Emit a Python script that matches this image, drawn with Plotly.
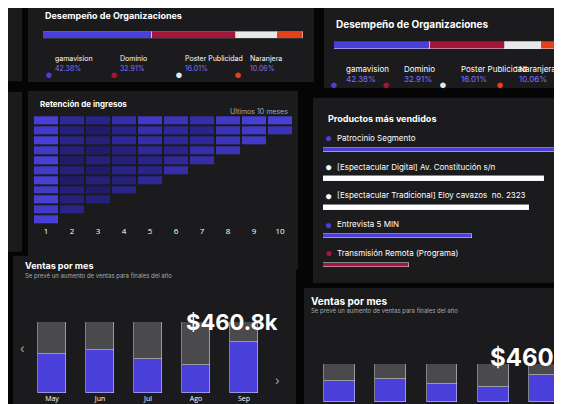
import plotly.graph_objects as go

W, H = 562, 404

# --- data ---
org_names = ["gamavision", "Dominio", "Poster Publicidad", "Naranjera"]
org_pct = [42.38, 32.91, 16.01, 10.06]
org_colors = ["#4a3fd8", "#a3163a", "#e8e8e8", "#e5401a"]

ret_rows = [
    [0.9, 0.5, 0.4, 0.6, 0.8, 0.7, 0.6, 0.8, 0.9, 0.9],
    [0.8, 0.3, 0.2, 0.4, 0.6, 0.5, 0.4, 0.7, 0.8, 0.7],
    [0.9, 0.4, 0.3, 0.5, 0.6, 0.5, 0.5, 0.7, 0.8, None],
    [0.8, 0.3, 0.2, 0.3, 0.5, 0.4, 0.6, 0.7, None, None],
    [0.9, 0.2, 0.3, 0.3, 0.4, 0.5, 0.6, None, None, None],
    [0.8, 0.3, 0.2, 0.4, 0.4, 0.6, None, None, None, None],
    [0.9, 0.2, 0.3, 0.3, 0.5, None, None, None, None, None],
    [0.8, 0.3, 0.2, 0.4, None, None, None, None, None, None],
    [0.9, 0.3, 0.3, None, None, None, None, None, None, None],
    [0.8, 0.4, None, None, None, None, None, None, None, None],
    [0.9, None, None, None, None, None, None, None, None, None],
]
ret_cols = [str(i) for i in range(1, 11)]

prod_names = ["Patrocinio Segmento", "[Espectacular Digital] Av. Constitución s/n",
              "[Espectacular Tradicional] Eloy cavazos  no. 2323", "Entrevista 5 MIN",
              "Transmisión Remota (Programa)"]
prod_vals = [0.97, 0.92, 0.86, 0.62, 0.36]
prod_colors = ["#4a3fd8", "#ffffff", "#ffffff", "#4a3fd8", "#a3163a"]

months = ["May", "Jun", "Jul", "Ago", "Sep"]
sales_blue = [0.55, 0.6, 0.48, 0.4, 0.72]
total_label = "$460.8k"


def clamp(v):
    return min(max(v, 0), 1)


def px(x0, x1):
    return [clamp(x0 / W), clamp(x1 / W)]


def py(y0, y1):
    return [clamp(1 - y1 / H), clamp(1 - y0 / H)]


fig = go.Figure()
shapes, ann = [], []

panels = [(-20, 0, 14, 75), (20, -10, 306, 76), (316, -10, 580, 82),
          (-20, 86, 14, 250), (20, 85, 290, 268), (305, 92, 580, 282),
          (5, 254, 288, 420), (296, 287, 580, 420)]
for x0, y0, x1, y1 in panels:
    shapes.append(dict(type="rect", xref="paper", yref="paper", x0=x0 / W, x1=x1 / W,
                       y0=1 - y1 / H, y1=1 - y0 / H, fillcolor="#1b1b1d",
                       line=dict(width=0), layer="below"))


def text(x, y, s, size=8, color="#ffffff", bold=False, anchor="left"):
    ann.append(dict(x=x / W, y=1 - y / H, xref="paper", yref="paper", text=f"<b>{s}</b>" if bold else s,
                    showarrow=False, xanchor=anchor, yanchor="middle",
                    font=dict(size=size, color=color, family="Inter")))


# Desempeño panels
for i, (x0, x1, yb0, yb1, ty, ly, sz) in enumerate(
        [(35, 295, 24, 31, 8, 52, 9), (326, 556, 34, 42, 17, 63, 10)]):
    ax = "" if i == 0 else "2"
    for n, v, c in zip(org_names, org_pct, org_colors):
        fig.add_trace(go.Bar(x=[v], y=[0], orientation="h", marker_color=c, width=1,
                             xaxis="x" + ax, yaxis="y" + ax, showlegend=False))
    fig.update_layout(**{f"xaxis{ax}": dict(domain=px(x0, x1), visible=False, range=[0, sum(org_pct)]),
                         f"yaxis{ax}": dict(domain=py(yb0, yb1), visible=False, anchor="x" + ax)})
    text(x0, ty, "Desempeño de Organizaciones", sz, bold=True)
    step = (x1 - x0) / 4
    for k, (n, v, c) in enumerate(zip(org_names, org_pct, org_colors)):
        lx = x0 + k * step
        ann.append(dict(x=lx / W, y=1 - (ly + 4) / H, xref="paper", yref="paper", text="●",
                        showarrow=False, font=dict(size=13, color=c)))
        text(lx + 10, ly, n, sz - 2)
        text(lx + 10, ly + 10, f"{v:.2f}%", sz - 2, color="#7b72ff")

# Retención heatmap
fig.add_trace(go.Heatmap(z=ret_rows, x=ret_cols, xaxis="x3", yaxis="y3", showscale=False, xgap=2, ygap=2,
                         colorscale=[[0, "#17134f"], [0.5, "#2e2899"], [1, "#4f45e6"]], zmin=0, zmax=1))
fig.update_layout(xaxis3=dict(domain=px(25, 285), anchor="y3", showgrid=False, zeroline=False,
                              tickfont=dict(color="#ffffff", size=8), ticks="", side="bottom"),
                  yaxis3=dict(domain=py(110, 222), anchor="x3", visible=False, autorange="reversed"))
text(30, 98, "Retención de ingresos", 8, bold=True)
text(282, 106, "Ultimos 10 meses", 7, color="#aaaaaa", anchor="right")

# Productos
ys = list(range(len(prod_names)))
fig.add_trace(go.Bar(x=prod_vals, y=ys, orientation="h", marker_color=prod_colors, width=0.16,
                     xaxis="x4", yaxis="y4", showlegend=False))
fig.update_layout(xaxis4=dict(domain=px(315, 555), range=[0, 1], visible=False, anchor="y4"),
                  yaxis4=dict(domain=py(125, 278), range=[4.5, -0.7], visible=False, anchor="x4"))
text(318, 113, "Productos más vendidos", 9, bold=True)
for y, n, c in zip(ys, prod_names, prod_colors):
    ann.append(dict(x=0.0, y=y - 0.42, xref="x4", yref="y4", text="●", showarrow=False,
                    xanchor="left", font=dict(size=12, color=c)))
    ann.append(dict(x=0.05, y=y - 0.42, xref="x4", yref="y4", text=n, showarrow=False,
                    xanchor="left", font=dict(size=8, color="#ffffff", family="Inter")))

# Ventas por mes
for ax, (x0, x1, y0, y1), ty, sz in [("5", (20, 260, 322, 395), 264, 9), ("6", (306, 562, 365, 404), 300, 10)]:
    fig.add_trace(go.Bar(x=months, y=sales_blue, marker_color="#4a3fd8", width=0.6,
                         xaxis="x" + ax, yaxis="y" + ax, showlegend=False))
    fig.add_trace(go.Bar(x=months, y=[1 - v for v in sales_blue], marker_color="#4a4a4c", width=0.6,
                         xaxis="x" + ax, yaxis="y" + ax, showlegend=False))
    fig.update_layout(**{f"xaxis{ax}": dict(domain=px(x0, x1), anchor="y" + ax, showgrid=False,
                                            tickfont=dict(color="#ffffff", size=7), ticks=""),
                         f"yaxis{ax}": dict(domain=py(y0, y1), range=[0, 1], visible=False, anchor="x" + ax)})
    text(x0 - 5, ty, "Ventas por mes", sz, bold=True)
    text(x0 - 5, ty + 11, "Se prevé un aumento de ventas para finales del año", 6, color="#aaaaaa")
text(272, 322, total_label, 22, bold=True, anchor="right")
text(480, 358, total_label, 24, bold=True)
text(10, 349, "‹", 12, color="#aaaaaa")
text(265, 382, "›", 12, color="#aaaaaa")

fig.update_layout(width=W, height=H, margin=dict(l=0, r=0, t=0, b=0), barmode="stack",
                  paper_bgcolor="#050505", plot_bgcolor="rgba(0,0,0,0)", shapes=shapes,
                  annotations=ann, bargap=0)
fig.write_html("out.html")
